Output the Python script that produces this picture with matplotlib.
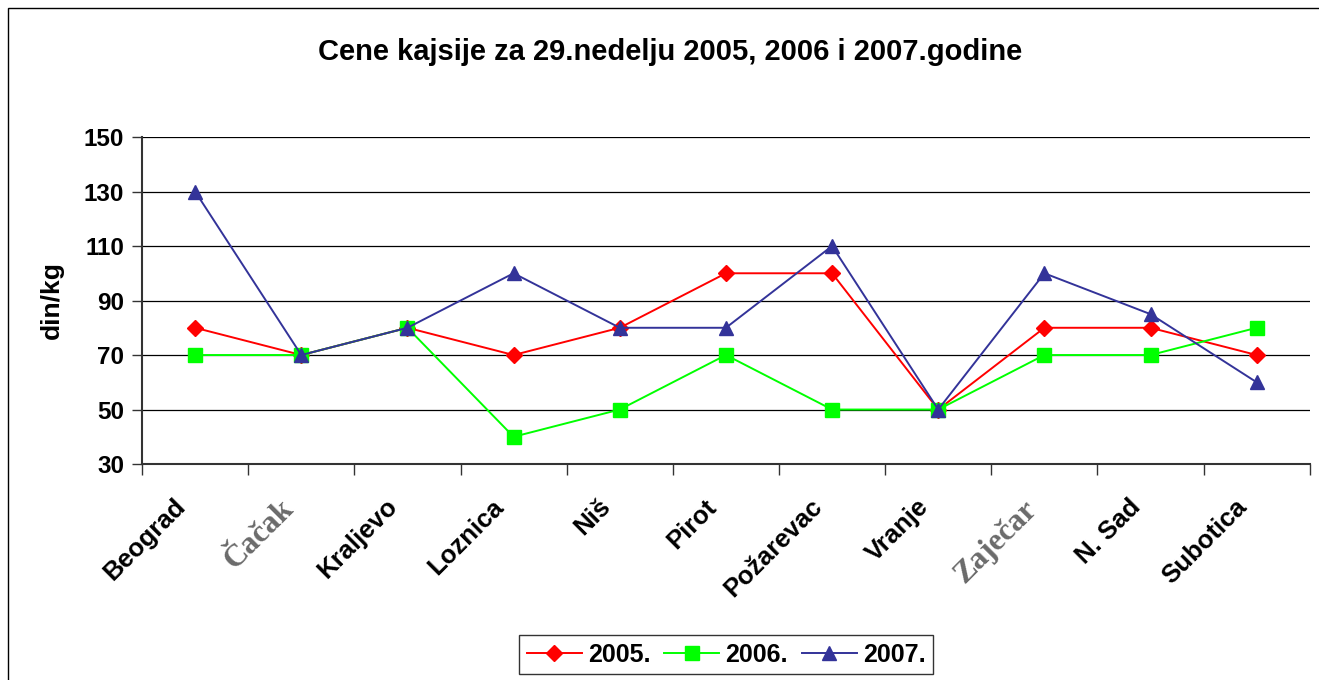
import matplotlib.pyplot as plt
from matplotlib.patches import Rectangle
from matplotlib.ticker import FixedLocator
from matplotlib.transforms import ScaledTranslation

# podaci
gradovi = ["Beograd", "Čačak", "Kraljevo", "Loznica", "Niš", "Pirot",
           "Požarevac", "Vranje", "Zaječar", "N. Sad", "Subotica"]
cene_2005 = [80, 70, 80, 70, 80, 100, 100, 50, 80, 80, 70]
cene_2006 = [70, 70, 80, 40, 50, 70, 50, 50, 70, 70, 80]
cene_2007 = [130, 70, 80, 100, 80, 80, 110, 50, 100, 85, 60]
y_ticks = [30, 50, 70, 90, 110, 130, 150]

plt.rcParams['font.family'] = ['Liberation Sans', 'DejaVu Sans']

fig = plt.figure(figsize=(13.19, 6.8), dpi=100)
ax = fig.add_axes([0.1077, 0.3176, 0.8853, 0.4809])

x = list(range(len(gradovi)))
ax.plot(x, cene_2005, color='#FF0000', marker='D', markersize=8.5, lw=1.4, label='2005.')
ax.plot(x, cene_2006, color='#00FF00', marker='s', markersize=9.5, lw=1.4, label='2006.')
ax.plot(x, cene_2007, color='#333399', marker='^', markersize=10.5, lw=1.4, label='2007.')

ax.set_xlim(-0.5, len(gradovi) - 0.5)
ax.set_ylim(30, 150)
ax.set_yticks(y_ticks)
ax.set_yticklabels([str(v) for v in y_ticks], fontsize=17.5, fontweight='bold')
ax.grid(axis='y', color='black', lw=0.9)
ax.set_axisbelow(True)

ax.set_xticks(x)
ax.set_xticklabels(gradovi, rotation=45, ha='right', rotation_mode='anchor',
                   fontsize=18.5, fontweight='bold')
ax.xaxis.set_minor_locator(FixedLocator([i - 0.5 for i in range(len(gradovi) + 1)]))
ax.tick_params(axis='x', which='major', length=0, pad=22)
ax.tick_params(axis='x', which='minor', length=8, width=1, color='#333333', direction='out')
ax.tick_params(axis='y', length=7, width=1, color='#333333', direction='out', pad=6)

# pomeri nazive ulevo kao u originalu
pomeraj = ScaledTranslation(-0.22, 0, fig.dpi_scale_trans)
for lbl in ax.get_xticklabels():
    lbl.set_transform(lbl.get_transform() + pomeraj)
    if lbl.get_text() in ("Čačak", "Zaječar"):
        lbl.set_family(['Liberation Serif', 'DejaVu Serif'])
        lbl.set_color('#6a6a6a')
        lbl.set_fontweight('bold')
        lbl.set_fontsize(22.5)

for s in ['top', 'right']:
    ax.spines[s].set_visible(False)
ax.spines['left'].set_color('#333333')
ax.spines['bottom'].set_color('#333333')
ax.spines['left'].set_linewidth(1.5)
ax.spines['bottom'].set_linewidth(1.5)

ax.set_ylabel("din/kg", fontsize=19, fontweight='bold', labelpad=14)

fig.text(0.508, 0.923, "Cene kajsije za 29.nedelju 2005, 2006 i 2007.godine",
         ha='center', va='center', fontsize=21, fontweight='bold')

leg = fig.legend(loc='center', bbox_to_anchor=(0.5504, 0.0368), ncol=3,
                 frameon=True, fancybox=False, edgecolor='black',
                 prop={'size': 18, 'weight': 'bold'}, handlelength=2.2,
                 columnspacing=0.55, handletextpad=0.25, borderpad=0.3,
                 borderaxespad=0)
leg.get_frame().set_linewidth(1)

# okvir oko cele slike
fig.patches.append(Rectangle((8 / 1319, -0.01), 1.02, 1 - 8 / 680 + 0.01,
                             transform=fig.transFigure, fill=False,
                             edgecolor='black', lw=1))

fig.savefig("out.png", dpi=100)
